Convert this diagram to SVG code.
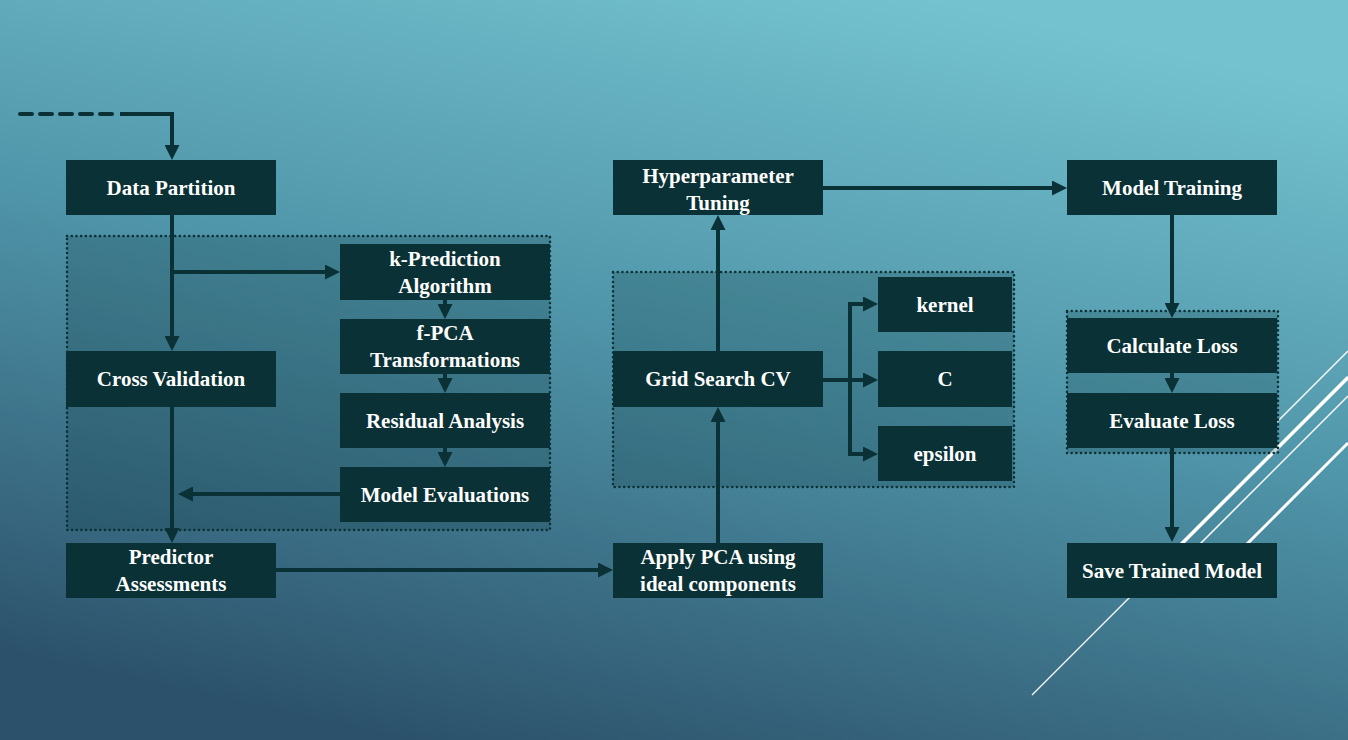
<svg xmlns="http://www.w3.org/2000/svg" width="1348" height="740" viewBox="0 0 1348 740">
<defs>
<linearGradient id="bg" x1="0.7" y1="0" x2="0.3" y2="1">
<stop offset="0" stop-color="#74c2cf"/>
<stop offset="0.45" stop-color="#5096aa"/>
<stop offset="1" stop-color="#2c526b"/>
</linearGradient>
<marker id="ah" markerUnits="userSpaceOnUse" markerWidth="15" markerHeight="15" viewBox="0 0 15 15" refX="9" refY="7.5" orient="auto">
<path d="M0,0 L15,7.5 L0,15 z" fill="#0a3135"/>
</marker>
<style>
.node rect{fill:#0a3135}
.node text{fill:#ffffff;font-family:"Liberation Serif","Times New Roman",serif;font-weight:bold;font-size:21px;text-anchor:middle}
.grp{fill:#0a3135;fill-opacity:0.22;stroke:#0a3135;stroke-width:2.5;stroke-dasharray:0.1 4.6;stroke-linecap:round}
.conn path{fill:none;stroke:#0a3135;stroke-width:4}
.arr{marker-end:url(#ah)}
.deco line{stroke:#ffffff}
</style>
</defs>
<rect width="1348" height="740" fill="url(#bg)"/>
<g class="deco">
<line x1="1032" y1="695" x2="1348" y2="379" stroke-width="1.3"/>
<line x1="1180" y1="545" x2="1348" y2="377" stroke-width="3"/>
<line x1="1199" y1="545" x2="1348" y2="396" stroke-width="1.5"/>
<line x1="1246" y1="545" x2="1348" y2="443" stroke-width="3"/>
<line x1="1276" y1="423" x2="1348" y2="351" stroke-width="1.5"/>
</g>
<g id="groups">
<rect class="grp" x="67" y="236" width="483" height="294"/>
<rect class="grp" x="613" y="272" width="401" height="215"/>
<rect class="grp" x="1067" y="311" width="211" height="142"/>
</g>
<g class="conn" id="connectors">
<path d="M20,114 H120" stroke-dasharray="12 8" stroke-linecap="round"/>
<path class="arr" d="M120,114 H172 V154"/>
<path class="arr" d="M172,215 V345"/>
<path class="arr" d="M172,272 H334"/>
<path class="arr" d="M445,300 V313"/>
<path class="arr" d="M445,374 V387"/>
<path class="arr" d="M445,448 V461"/>
<path class="arr" d="M340,494 H184"/>
<path class="arr" d="M172,407 V537"/>
<path class="arr" d="M276,570 H607"/>
<path class="arr" d="M718,543 V413"/>
<path class="arr" d="M718,351 V221"/>
<path class="arr" d="M823,380 H872"/>
<path class="arr" d="M850,380 V304 H872"/>
<path class="arr" d="M850,380 V454 H872"/>
<path class="arr" d="M823,188 H1061"/>
<path class="arr" d="M1172,215 V312"/>
<path class="arr" d="M1172,373 V387"/>
<path class="arr" d="M1172,448 V536"/>
</g>
<g class="node" id="data-partition"><rect x="66" y="160" width="210" height="55"/><text x="171" y="195">Data Partition</text></g>
<g class="node" id="cross-validation"><rect x="66" y="351" width="210" height="56"/><text x="171" y="386">Cross Validation</text></g>
<g class="node" id="predictor-assessments"><rect x="66" y="543" width="210" height="55"/><text x="171" y="564">Predictor</text><text x="171" y="591">Assessments</text></g>
<g class="node" id="k-prediction"><rect x="340" y="244" width="210" height="56"/><text x="445" y="266">k-Prediction</text><text x="445" y="293">Algorithm</text></g>
<g class="node" id="f-pca"><rect x="340" y="319" width="210" height="55"/><text x="445" y="340">f-PCA</text><text x="445" y="367">Transformations</text></g>
<g class="node" id="residual-analysis"><rect x="340" y="393" width="210" height="55"/><text x="445" y="428">Residual Analysis</text></g>
<g class="node" id="model-evaluations"><rect x="340" y="467" width="210" height="55"/><text x="445" y="502">Model Evaluations</text></g>
<g class="node" id="hyperparameter-tuning"><rect x="613" y="160" width="210" height="55"/><text x="718" y="183">Hyperparameter</text><text x="718" y="210">Tuning</text></g>
<g class="node" id="grid-search-cv"><rect x="613" y="351" width="210" height="56"/><text x="718" y="386">Grid Search CV</text></g>
<g class="node" id="apply-pca"><rect x="613" y="543" width="210" height="55"/><text x="718" y="564">Apply PCA using</text><text x="718" y="591">ideal components</text></g>
<g class="node" id="kernel"><rect x="878" y="277" width="134" height="55"/><text x="945" y="312">kernel</text></g>
<g class="node" id="c"><rect x="878" y="351" width="134" height="56"/><text x="945" y="386">C</text></g>
<g class="node" id="epsilon"><rect x="878" y="426" width="134" height="55"/><text x="945" y="461">epsilon</text></g>
<g class="node" id="model-training"><rect x="1067" y="160" width="210" height="55"/><text x="1172" y="195">Model Training</text></g>
<g class="node" id="calculate-loss"><rect x="1067" y="318" width="210" height="55"/><text x="1172" y="353">Calculate Loss</text></g>
<g class="node" id="evaluate-loss"><rect x="1067" y="393" width="210" height="55"/><text x="1172" y="428">Evaluate Loss</text></g>
<g class="node" id="save-trained-model"><rect x="1067" y="543" width="210" height="55"/><text x="1172" y="578">Save Trained Model</text></g>
</svg>
